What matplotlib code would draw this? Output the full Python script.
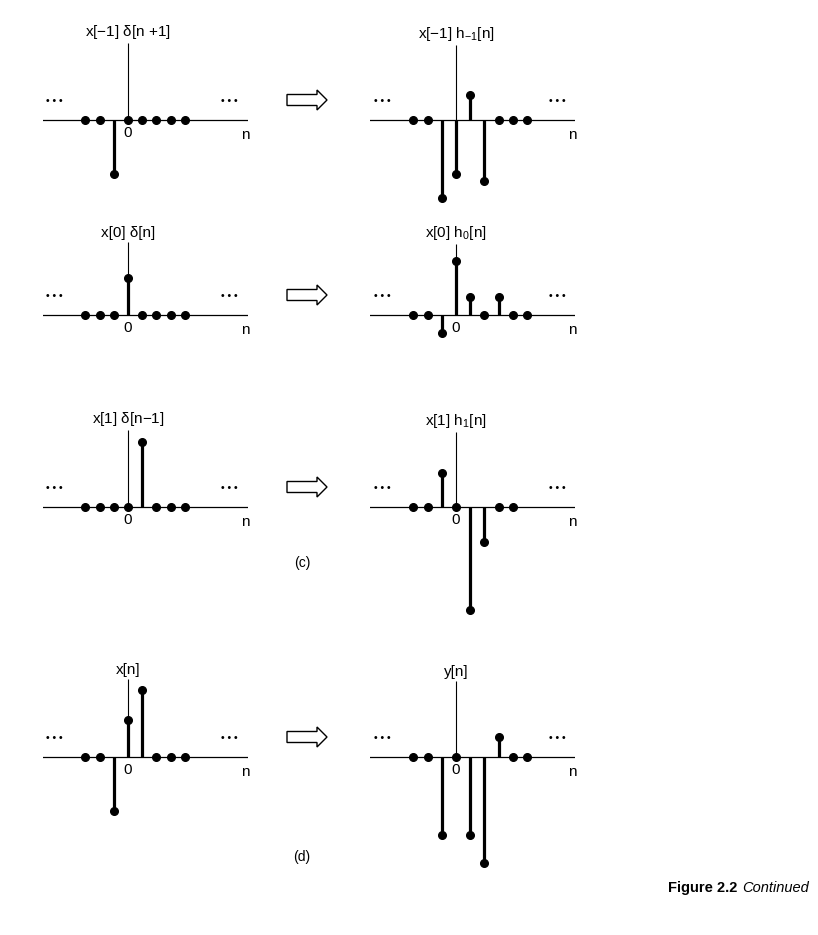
import matplotlib
matplotlib.use("Agg")
import matplotlib.pyplot as plt
from matplotlib.patches import FancyArrow

plt.rcParams['font.family'] = ['Liberation Sans', 'DejaVu Sans']
plt.rcParams['mathtext.fontset'] = 'custom'
plt.rcParams['mathtext.rm'] = 'Liberation Sans'
plt.rcParams['mathtext.it'] = 'Liberation Sans:italic'

# sample values (arbitrary units, + is up)
n_a = [-3, -2, -1, 0, 1, 2, 3, 4]
n_b = [-3, -2, -1, 0, 1, 2, 3, 4, 5]

x_m1_delta = [0, 0, -54, 0, 0, 0, 0, 0]
x_m1_h = [0, 0, -78, -54, 25, -61, 0, 0, 0]
x_0_delta = [0, 0, 0, 37, 0, 0, 0, 0]
x_0_h = [0, 0, -18, 54, 18, 0, 18, 0, 0]
x_1_delta = [0, 0, 0, 0, 65, 0, 0, 0]
x_1_h = [0, 0, 34, 0, -103, -35, 0, 0]
x_n = [0, 0, -54, 37, 67, 0, 0, 0]
y_n = [0, 0, -78, 0, -78, -106, 20, 0, 0]

labels_left = [r'x[$-$1] δ[n +1]', 'x[0] δ[n]', r'x[1] δ[n$-$1]', 'x[n]']
labels_right = [r'x[$-$1] h$_{\mathrm{-1}}$[n]', r'x[0] h$_{\mathrm{0}}$[n]',
                r'x[1] h$_{\mathrm{1}}$[n]', 'y[n]']
sub_labels = {2: '(c)', 3: '(d)'}

left_rows = [(n_a, x_m1_delta), (n_a, x_0_delta), (n_a, x_1_delta), (n_a, x_n)]
right_rows = [(n_b, x_m1_h), (n_b, x_0_h), (n_a, x_1_h), (n_b, y_n)]

W, H = 818, 935
baselines = [120, 315, 507, 757]
vtops = [77, 73, 77, 78]
FS = 11

fig = plt.figure(figsize=(W / 100, H / 100), dpi=100)
over = fig.add_axes([0, 0, 1, 1])
over.set_xlim(0, W)
over.set_ylim(H, 0)
over.axis('off')


def panel(x0, zero_px, base, vtop, nn, vals, label, show_zero=True):
    up, down = 100, 115
    ax = fig.add_axes([x0 / W, 1 - (base + down) / H, 205 / W, (up + down) / H])
    step = 14.19
    ax.set_xlim(-(zero_px - x0) / step, (x0 + 205 - zero_px) / step)
    ax.set_ylim(-down, up)
    ax.axis('off')
    ax.axhline(0, color='k', lw=0.9)
    ax.vlines(0, 0, vtop, color='k', lw=0.8)
    ml, sl, bl = ax.stem(nn, vals, linefmt='k-', markerfmt='ko', basefmt=' ')
    sl.set_linewidth(2.3)
    ml.set_markersize(5.5)
    ax.text(0, vtop + 2, label, ha='center', va='bottom', fontsize=FS)
    if show_zero:
        ax.text(0, -13, '0', ha='center', va='center', fontsize=FS)
    ax.text((x0 + 202 - zero_px) / step, -15, 'n', ha='center', va='center', fontsize=FS)
    for xd in (-5.2, 7.15):
        ax.text(xd, 19, '• • •', ha='center', va='center', fontsize=7.5)
    return ax


for i in range(4):
    panel(43, 128, baselines[i], vtops[i], left_rows[i][0], left_rows[i][1], labels_left[i])
    panel(370, 456, baselines[i], vtops[i] - 2, right_rows[i][0], right_rows[i][1],
          labels_right[i], show_zero=(i != 0))
    cy = baselines[i] - 20
    over.add_patch(FancyArrow(287, cy, 30, 0, width=11, head_width=20, head_length=10,
                              length_includes_head=False, fill=False, ec='k', lw=1.0))
    if i in sub_labels:
        yy = 563 if i == 2 else 857
        over.text(302, yy, sub_labels[i], ha='center', va='center', fontsize=10)

t1 = over.text(668, 888, 'Figure 2.2', ha='left', va='center', fontsize=10.5, fontweight='bold')
fig.canvas.draw()
bb = t1.get_window_extent()
over.text(bb.x1 + 5, 888, 'Continued', ha='left', va='center', fontsize=10.5, style='italic')

fig.savefig('out.png', dpi=100)
